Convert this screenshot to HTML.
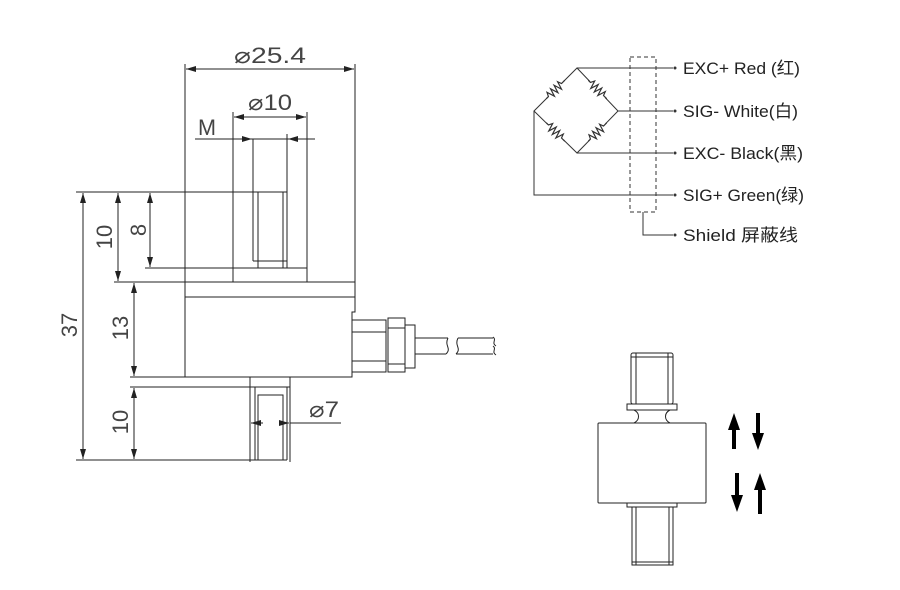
<!DOCTYPE html>
<html><head><meta charset="utf-8"><style>body{margin:0;background:#fff}svg{display:block}</style></head><body>
<svg width="900" height="590" viewBox="0 0 900 590" xmlns="http://www.w3.org/2000/svg">
<defs>
<marker id="a" viewBox="0 0 10 6" refX="10" refY="3" markerWidth="11" markerHeight="6" markerUnits="userSpaceOnUse" orient="auto-start-reverse"><path d="M0,0L10,3L0,6z" fill="#222"/></marker>
<g id="res"><rect x="-11" y="-5" width="22" height="10" fill="#fff" stroke="none"/><path d="M-13,0H-10l2,-4l2.5,8l2.5,-8l2.5,8l2.5,-8l2.5,8l2.5,-8l1.5,4H13" fill="none" stroke="#333" stroke-width="1.2"/></g>
</defs>
<g stroke="#222" stroke-width="1" fill="none">
<line x1="185" y1="64" x2="185" y2="282"/><line x1="355" y1="64" x2="355" y2="282"/>
<line x1="186" y1="69" x2="354" y2="69" marker-start="url(#a)" marker-end="url(#a)"/>
<line x1="233" y1="112" x2="233" y2="282"/><line x1="307" y1="112" x2="307" y2="282"/>
<line x1="234" y1="117" x2="306" y2="117" marker-start="url(#a)" marker-end="url(#a)"/>
<line x1="195" y1="139" x2="315" y2="139"/>
<line x1="240" y1="139" x2="252" y2="139" marker-end="url(#a)"/>
<line x1="300" y1="139" x2="288" y2="139" marker-end="url(#a)"/>
<line x1="253" y1="139" x2="253" y2="261"/><line x1="287" y1="134" x2="287" y2="268"/>
<line x1="253" y1="261" x2="287" y2="261"/>
<line x1="258" y1="192" x2="258" y2="268"/><line x1="283" y1="192" x2="283" y2="268"/>
<line x1="76" y1="192" x2="287" y2="192"/>
<line x1="145" y1="268" x2="307" y2="268"/>
<line x1="114" y1="282" x2="355" y2="282"/>
<path d="M185,282V377H352V312H355V282"/>
<line x1="185" y1="297" x2="355" y2="297"/>
<rect x="352" y="320" width="34" height="52"/>
<line x1="352" y1="332" x2="386" y2="332"/><line x1="352" y1="361" x2="386" y2="361"/>
<rect x="388" y="318" width="17" height="54"/>
<line x1="388" y1="328" x2="405" y2="328"/><line x1="388" y1="364" x2="405" y2="364"/>
<rect x="405" y="325" width="10" height="43"/>
<path d="M415,338H448M458,338H493M415,354H446M456,354H493"/>
<path d="M448,338C444,346 452,348 446,354M458,338C454,346 462,348 456,354"/>
<path d="M493,337c4,3 -2,6 3,9M493,346c4,3 -2,6 3,9"/>
<line x1="130" y1="377" x2="352" y2="377"/>
<line x1="130" y1="387" x2="290" y2="387"/>
<line x1="250" y1="377" x2="250" y2="462"/><line x1="290" y1="377" x2="290" y2="462"/>
<line x1="255" y1="387" x2="255" y2="460"/><line x1="287" y1="387" x2="287" y2="460"/>
<rect x="258" y="395" width="25" height="65"/>
<line x1="290" y1="423" x2="341" y2="423"/>
<line x1="251" y1="423" x2="263" y2="423" marker-start="url(#a)"/>
<line x1="279" y1="423" x2="289" y2="423" marker-end="url(#a)"/>
<line x1="76" y1="460" x2="287" y2="460"/>
<line x1="83" y1="193" x2="83" y2="459" marker-start="url(#a)" marker-end="url(#a)"/>
<line x1="118" y1="193" x2="118" y2="281" marker-start="url(#a)" marker-end="url(#a)"/>
<line x1="150" y1="193" x2="150" y2="267" marker-start="url(#a)" marker-end="url(#a)"/>
<line x1="134" y1="283" x2="134" y2="376" marker-start="url(#a)" marker-end="url(#a)"/>
<line x1="134" y1="388" x2="134" y2="459" marker-start="url(#a)" marker-end="url(#a)"/>
</g>
<g font-family="Liberation Sans, sans-serif" fill="#444" font-size="22">
<text x="270" y="63" text-anchor="middle" textLength="72" lengthAdjust="spacingAndGlyphs">⌀25.4</text>
<text x="270" y="110" text-anchor="middle" textLength="44" lengthAdjust="spacingAndGlyphs">⌀10</text>
<text x="207" y="135" text-anchor="middle" textLength="18" lengthAdjust="spacingAndGlyphs">M</text>
<text x="324" y="417" text-anchor="middle" textLength="30" lengthAdjust="spacingAndGlyphs">⌀7</text>
<text transform="translate(77,325) rotate(-90)" text-anchor="middle">37</text>
<text transform="translate(112,237) rotate(-90)" text-anchor="middle">10</text>
<text transform="translate(146,230) rotate(-90)" text-anchor="middle">8</text>
<text transform="translate(128,328) rotate(-90)" text-anchor="middle">13</text>
<text transform="translate(128,422) rotate(-90)" text-anchor="middle">10</text>
</g>
<g stroke="#333" stroke-width="1" fill="none">
<path d="M534,111L577,68L618,111L577,153Z"/>
<path d="M577,68H673M618,111H673M577,153H673M534,111V195H673"/>
<rect x="630" y="57" width="26" height="155" stroke-dasharray="4,3"/>
<path d="M643,212V235H673"/>
</g>
<use href="#res" transform="translate(555.5,89.5) rotate(-45)"/>
<use href="#res" transform="translate(597.5,89.5) rotate(45)"/>
<use href="#res" transform="translate(555.5,132) rotate(45)"/>
<use href="#res" transform="translate(597.5,132) rotate(-45)"/>
<g fill="#333"><circle cx="675" cy="68" r="1.5"/><circle cx="675" cy="111" r="1.5"/><circle cx="675" cy="153" r="1.5"/><circle cx="675" cy="195" r="1.5"/><circle cx="675" cy="235" r="1.5"/></g>
<g font-family="Liberation Sans, 'Noto Sans CJK SC', sans-serif" font-size="17" fill="#222">
<text x="683" y="74" textLength="117" lengthAdjust="spacingAndGlyphs">EXC+ Red (红)</text>
<text x="683" y="117" textLength="115" lengthAdjust="spacingAndGlyphs">SIG- White(白)</text>
<text x="683" y="159" textLength="120" lengthAdjust="spacingAndGlyphs">EXC- Black(黑)</text>
<text x="683" y="201" textLength="121" lengthAdjust="spacingAndGlyphs">SIG+ Green(绿)</text>
<text x="683" y="241" textLength="115" lengthAdjust="spacingAndGlyphs">Shield  屏蔽线</text>
</g>
<g stroke="#222" stroke-width="1" fill="none">
<rect x="631" y="353" width="42" height="51" rx="2"/>
<line x1="636" y1="353" x2="636" y2="404"/><line x1="668" y1="353" x2="668" y2="404"/>
<line x1="631" y1="357" x2="673" y2="357"/>
<rect x="627" y="404" width="50" height="6"/>
<path d="M634,410c6,3 6,10 0,13M670,410c-6,3 -6,10 0,13"/>
<rect x="598" y="423" width="108" height="80" rx="1"/>
<rect x="627" y="503" width="50" height="4"/>
<rect x="632" y="507" width="41" height="58"/>
<line x1="636" y1="507" x2="636" y2="565"/><line x1="669" y1="507" x2="669" y2="565"/>
<line x1="632" y1="562" x2="673" y2="562"/>
</g>
<g fill="#000">
<path d="M728,430l6,-17l6,17h-4v19h-4v-19z"/>
<path d="M752,433l6,17l6,-17h-4v-20h-4v20z"/>
<path d="M731,495l6,17l6,-17h-4v-22h-4v22z"/>
<path d="M754,490l6,-17l6,17h-4v24h-4v-24z"/>
</g>
</svg>
</body></html>
